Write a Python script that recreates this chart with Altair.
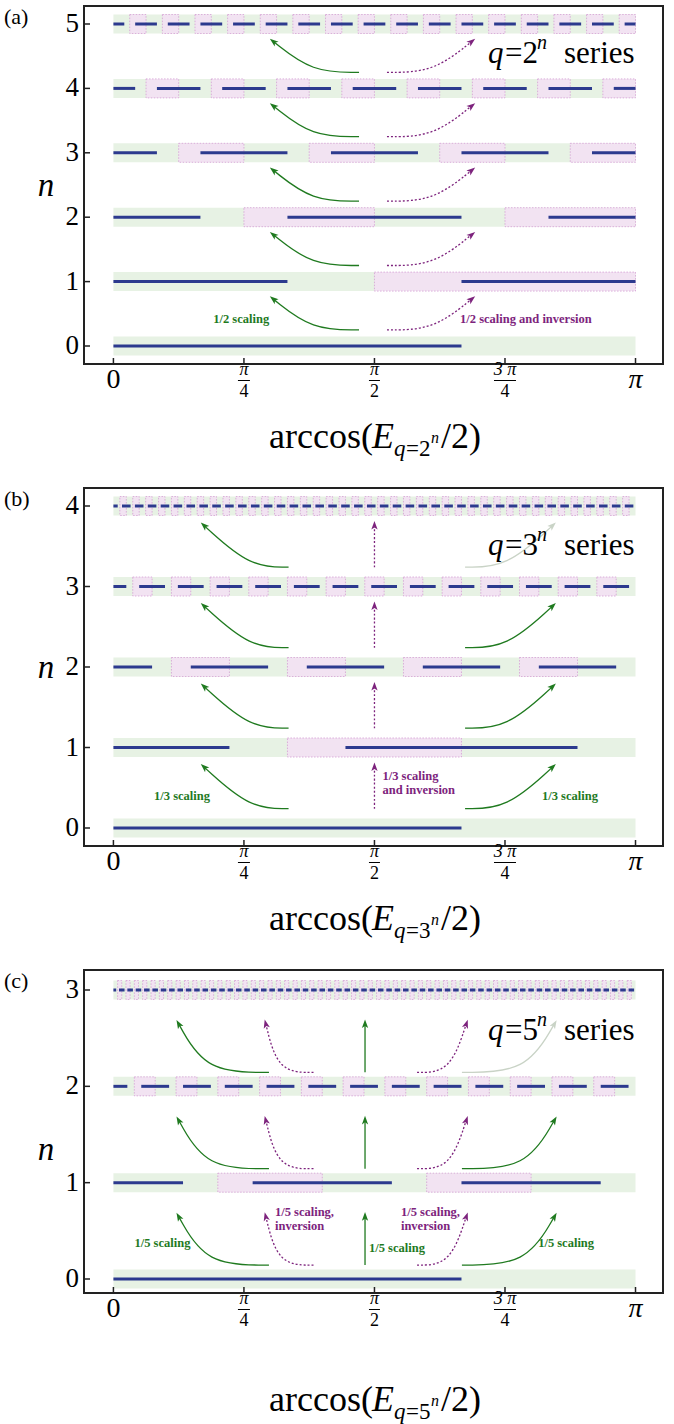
import math
import altair as alt
import pandas as pd

PI = math.pi

# ---------------- panel (a): q = 2^n ----------------
A_DEN = [3, 6, 12, 24, 48, 96]          # segment units are PI/den
A_SEG = [
    [0, 2],
    [0, 2, 4, 6],
    [0, 2, 4, 8, 10, 12],
    [0, 2, 4, 8, 10, 14, 16, 20, 22, 24],
    [0, 2, 4, 8, 10, 14, 16, 20, 22, 26, 28, 32, 34, 38, 40, 44, 46, 48],
    [0, 2, 4, 8, 10, 14, 16, 20, 22, 26, 28, 32, 34, 38, 40, 44, 46, 50,
     52, 56, 58, 62, 64, 68, 70, 74, 76, 80, 82, 86, 88, 92, 94, 96],
]
A_PINK = ["", "01", "0101", "01010101", "0101010101010101",
          "0101010101010101" "0101010101010101"]

# ---------------- panel (b): q = 3^n ----------------
B_DEN = [3, 9, 27, 81, 243]
B_SEG = [
    [0, 2],
    [0, 2, 4, 8],
    [0, 2, 4, 8, 10, 14, 16, 20, 22, 26],
    [0, 2, 4, 8, 10, 14, 16, 20, 22, 26, 28, 32, 34, 38, 40, 44, 46, 50,
     52, 56, 58, 62, 64, 68, 70, 74, 76, 80],
    [0, 2, 4, 8, 10, 14, 16, 20, 22, 26, 28, 32, 34, 38, 40, 44, 46, 50,
     52, 56, 58, 62, 64, 68, 70, 74, 76, 80, 82, 86, 88, 92, 94, 98,
     100, 104, 106, 110, 112, 116, 118, 122, 124, 128, 130, 134, 136, 140,
     142, 146, 148, 152, 154, 158, 160, 164, 166, 170, 172, 176, 178, 182,
     184, 188, 190, 194, 196, 200, 202, 206, 208, 212, 214, 218, 220, 224,
     226, 230, 232, 236, 238, 242],
]
B_PINK = ["", "010", "010101010",
          "0101010101" "0101010101" "0101010",
          "0101010101" "0101010101" "0101010101" "0101010101"
          "0101010101" "0101010101" "0101010101" "0101010101" "0"]

# ---------------- panel (c): q = 5^n ----------------
C_DEN = [3, 15, 75, 375]
C_SEG = [
    [0, 2],
    [0, 2, 4, 8, 10, 14],
    [0, 2, 4, 8, 10, 14, 16, 20, 22, 26, 28, 32, 34, 38, 40, 44, 46, 50,
     52, 56, 58, 62, 64, 68, 70, 74],
    [0, 2, 4, 8, 10, 14, 16, 20, 22, 26, 28, 32, 34, 38, 40, 44, 46, 50,
     52, 56, 58, 62, 64, 68, 70, 74, 76, 80, 82, 86, 88, 92, 94, 98,
     100, 104, 106, 110, 112, 116, 118, 122, 124, 128, 130, 134, 136, 140,
     142, 146, 148, 152, 154, 158, 160, 164, 166, 170, 172, 176, 178, 182,
     184, 188, 190, 194, 196, 200, 202, 206, 208, 212, 214, 218, 220, 224,
     226, 230, 232, 236, 238, 242, 244, 248, 250, 254, 256, 260, 262, 266,
     268, 272, 274, 278, 280, 284, 286, 290, 292, 296, 298, 302, 304, 308,
     310, 314, 316, 320, 322, 326, 328, 332, 334, 338, 340, 344, 346, 350,
     352, 356, 358, 362, 364, 368, 370, 374],
]
C_PINK = ["", "01010",
          "0101010101" "0101010101" "01010",
          "0101010101" "0101010101" "0101010101" "0101010101"
          "0101010101" "0101010101" "0101010101" "0101010101"
          "0101010101" "0101010101" "0101010101" "0101010101" "01010"]

# arrows: (style, x_start, x_control, x_tip) in radians
A_ARROWS = [("g", 1.478, 1.195, 0.966), ("p", 1.646, 1.923, 2.152)]
B_ARROWS = [("g", 1.054, 0.822, 0.549), ("p", PI / 2, PI / 2, PI / 2),
            ("g", 2.116, 2.368, 2.639)]
C_ARROWS = [("g", 0.936, 0.557, 0.395), ("p", 1.204, 0.990, 0.918),
            ("g", 1.514, 1.514, 1.514), ("p", 1.827, 2.025, 2.122),
            ("g", 2.097, 2.483, 2.651)]

# annotations: (text, x in rad, y in level units, style)
A_NOTES_C = [("1/2 scaling", 0.769, 0.42, "g")]
A_NOTES_L = [("1/2 scaling and inversion", 2.086, 0.42, "p")]
B_NOTES_C = [("1/3 scaling", 0.413, 0.40, "g"), ("1/3 scaling", 2.747, 0.40, "g")]
B_NOTES_L = [("1/3 scaling", 1.619, 0.65, "p"), ("and inversion", 1.619, 0.47, "p")]
C_NOTES_C = [("1/5 scaling", 0.295, 0.37, "g"), ("1/5 scaling", 2.724, 0.37, "g")]
C_NOTES_L = [("1/5 scaling,", 0.972, 0.70, "p"), ("inversion", 0.972, 0.55, "p"),
             ("1/5 scaling,", 1.730, 0.70, "p"), ("inversion", 1.730, 0.55, "p"),
             ("1/5 scaling", 1.538, 0.32, "g")]

X_TICKS = [0, PI / 4, PI / 2, 3 * PI / 4, PI]
X_SINGLE = ["0", "", "", "", ""]
X_PI = ["", "", "", "", "π"]
X_NUM = ["", "π", "π", "3 π", ""]
X_DEN = ["", "4", "2", "4", ""]
X_BARW = [0, 12, 11, 22, 0]

FONT = "Liberation Serif, Times New Roman, DejaVu Serif, serif"
GREEN = "#1f7a1f"
PURPLE = "#7d237d"
LIGHT = "#c9d3c6"
BLUE = "#2c3a8e"
BAND = "#e7f2e4"
PINK = "#f2e3f2"
PINK_EDGE = "#d49ed4"
COL = {"g": GREEN, "p": PURPLE, "l": LIGHT}
HEAD = "M0,-1L0.6,0.65L0,0.25L-0.6,0.65Z"

W = 579
XD = [-0.177, 3.307]
PPR = W / (XD[1] - XD[0])


def txt(text, x, y, size, style="normal", weight="normal", align="left",
        baseline="alphabetic", color="black"):
    return alt.Chart(pd.DataFrame({"t": [text]})).mark_text(
        font=FONT, fontSize=size, fontStyle=style, fontWeight=weight,
        align=align, baseline=baseline, color=color
    ).encode(x=alt.value(x), y=alt.value(y), text="t:N")


def make_panel(tag, qd, den, seg, pink, arrows, light, s0, t1, notes_c, notes_l,
               H, mtop, mbot, sy, ty):
    N = len(den) - 1
    s = (H - mtop - mbot) / N
    YD = [-mbot / s, N + mtop / s]
    hb = 9.5 / s
    xs = alt.Scale(domain=XD, nice=False, zero=False)
    ys = alt.Scale(domain=YD, nice=False, zero=False)

    def X(f):
        return alt.X(f, type="quantitative", scale=xs, axis=None)

    def Y(f):
        return alt.Y(f, type="quantitative", scale=ys, axis=None)

    bands = pd.DataFrame({"n": list(range(N + 1))})
    bands["x0"] = 0.0
    bands["x1"] = PI
    bands["ylo"] = bands["n"] - hb
    bands["yhi"] = bands["n"] + hb

    srows = []
    for n, (d, sg) in enumerate(zip(den, seg)):
        for i in range(0, len(sg), 2):
            srows.append({"n": n, "x0": sg[i] * PI / d, "x1": sg[i + 1] * PI / d})
    segdf = pd.DataFrame(srows)

    prows = []
    for n, p in enumerate(pink):
        L = len(p)
        for i, c in enumerate(p):
            if c == "1":
                prows.append({"n": n, "x0": i * PI / L, "x1": (i + 1) * PI / L,
                              "ylo": n - hb, "yhi": n + hb})
    pinkdf = pd.DataFrame(prows)

    lrows, hrows = [], []
    aid = 0
    for g in range(N):
        for k, (st, x0, xc, x1) in enumerate(arrows):
            style = "l" if (g, k) == light else st
            ya, yb = g + s0, g + t1
            for o, (xx, yy) in enumerate([(x0, ya), (xc, ya), (x1, yb)]):
                lrows.append({"id": aid, "ord": o, "x": xx, "y": yy,
                              "col": COL[style], "dot": st == "p"})
            dxp = (x1 - xc) * PPR
            dyp = (yb - ya) * s
            ang = math.degrees(math.atan2(dxp, dyp)) % 360
            hrows.append({"x": x1, "y": yb, "ang": ang, "col": COL[style]})
            aid += 1
    ldf = pd.DataFrame(lrows)
    hdf = pd.DataFrame(hrows)

    layers = [
        alt.Chart(bands).mark_rect(color=BAND).encode(
            x=X("x0"), x2="x1", y=Y("ylo"), y2="yhi"),
        alt.Chart(pinkdf).mark_rect(fill=PINK, stroke=PINK_EDGE, strokeWidth=0.8,
                                    strokeDash=[1.5, 1.5]).encode(
            x=X("x0"), x2="x1", y=Y("ylo"), y2="yhi"),
        alt.Chart(segdf).mark_rule(color=BLUE, strokeWidth=3).encode(
            x=X("x0"), x2="x1", y=Y("n")),
        alt.Chart(ldf[~ldf["dot"]]).mark_line(interpolate="basis", strokeWidth=1.3).encode(
            x=X("x"), y=Y("y"), detail="id:N", order="ord:Q",
            color=alt.Color("col:N", scale=None)),
        alt.Chart(ldf[ldf["dot"]]).mark_line(interpolate="basis", strokeWidth=1.3,
                                              strokeDash=[2, 2]).encode(
            x=X("x"), y=Y("y"), detail="id:N", order="ord:Q",
            color=alt.Color("col:N", scale=None)),
        alt.Chart(hdf).mark_point(shape=HEAD, filled=True, size=110, opacity=1,
                                  strokeWidth=0).encode(
            x=X("x"), y=Y("y"), angle=alt.Angle("ang:Q", scale=None),
            color=alt.Color("col:N", scale=None)),
    ]

    for notes, al in ((notes_c, "center"), (notes_l, "left")):
        if notes:
            ndf = pd.DataFrame([{"t": t, "x": x, "y": y, "col": COL[c]}
                                for t, x, y, c in notes])
            layers.append(alt.Chart(ndf).mark_text(
                font=FONT, fontSize=12.5, fontWeight="bold", align=al,
                baseline="middle").encode(
                x=X("x"), y=Y("y"), text="t:N", color=alt.Color("col:N", scale=None)))

    # inward ticks
    yt = pd.DataFrame({"n": list(range(N + 1)), "lab": [str(i) for i in range(N + 1)]})
    layers.append(alt.Chart(yt).mark_rule(color="#222", strokeWidth=1.5).encode(
        y=Y("n"), x=alt.value(0), x2=alt.value(6)))
    xt = pd.DataFrame({"x": X_TICKS, "single": X_SINGLE, "pi": X_PI, "num": X_NUM,
                       "den": X_DEN, "bw": X_BARW})
    layers.append(alt.Chart(xt).mark_rule(color="#222", strokeWidth=1.5).encode(
        x=X("x"), y=alt.value(H), y2=alt.value(H - 6)))

    # tick labels
    layers.append(alt.Chart(yt).mark_text(font=FONT, fontSize=27, align="right",
                                          baseline="middle").encode(
        y=Y("n"), x=alt.value(-5), text="lab:N"))
    single = xt[xt["single"] != ""]
    pis = xt[xt["pi"] != ""]
    frac = xt[xt["num"] != ""].copy()
    frac["xa"] = frac["x"] - frac["bw"] / 2 / PPR
    frac["xb"] = frac["x"] + frac["bw"] / 2 / PPR
    layers.append(alt.Chart(single).mark_text(font=FONT, fontSize=28, baseline="middle").encode(
        x=X("x"), y=alt.value(H + 16), text="single:N"))
    layers.append(alt.Chart(pis).mark_text(font=FONT, fontSize=28, baseline="middle",
                                           fontStyle="italic").encode(
        x=X("x"), y=alt.value(H + 16), text="pi:N"))
    layers.append(alt.Chart(frac).mark_text(font=FONT, fontSize=18, baseline="middle",
                                            fontStyle="italic").encode(
        x=X("x"), y=alt.value(H + 6), text="num:N"))
    layers.append(alt.Chart(frac).mark_rule(color="black", strokeWidth=1).encode(
        x=X("xa"), x2="xb", y=alt.value(H + 16.5)))
    layers.append(alt.Chart(frac).mark_text(font=FONT, fontSize=18, baseline="middle").encode(
        x=X("x"), y=alt.value(H + 28), text="den:N"))

    # axis titles and labels
    tb = H + ty
    layers += [
        txt("arccos(", 185, tb, 36),
        txt("E", 288, tb, 36, style="italic"),
        txt("q", 310, tb + 8, 23, style="italic"),
        txt("=" + qd, 322, tb + 8, 23),
        txt("n", 347, tb - 5, 16, style="italic"),
        txt("/2)", 357, tb, 36),
        txt("n", -38, 180, 33, style="italic", align="center", baseline="middle"),
        txt(tag, -80, 11, 22, baseline="middle"),
        txt("q", 404, sy, 31, style="italic"),
        txt("=" + qd, 421, sy, 31),
        txt("n", 453, sy - 14, 20, style="italic"),
        txt("series", 480, sy, 31),
    ]
    return alt.layer(*layers).properties(width=W, height=H)


pa = make_panel("(a)", "2", A_DEN, A_SEG, A_PINK, A_ARROWS, None, 0.25, 0.72,
                A_NOTES_C, A_NOTES_L, 358, 18, 18, 57, 84)
pb = make_panel("(b)", "3", B_DEN, B_SEG, B_PINK, B_ARROWS, (3, 2), 0.24, 0.75,
                B_NOTES_C, B_NOTES_L, 358, 18, 18, 67, 84)
pc = make_panel("(c)", "5", C_DEN, C_SEG, C_PINK, C_ARROWS, (2, 4), 0.145, 0.64,
                C_NOTES_C, C_NOTES_L, 323, 20, 14, 70, 118)

chart = alt.vconcat(pa, pb, pc, spacing=124, bounds="flush").configure_view(
    stroke="#222", strokeWidth=2
).properties(padding={"left": 3, "top": 5, "right": 0, "bottom": 0})

chart.save("out.html", embed_options={"renderer": "svg", "actions": False})
